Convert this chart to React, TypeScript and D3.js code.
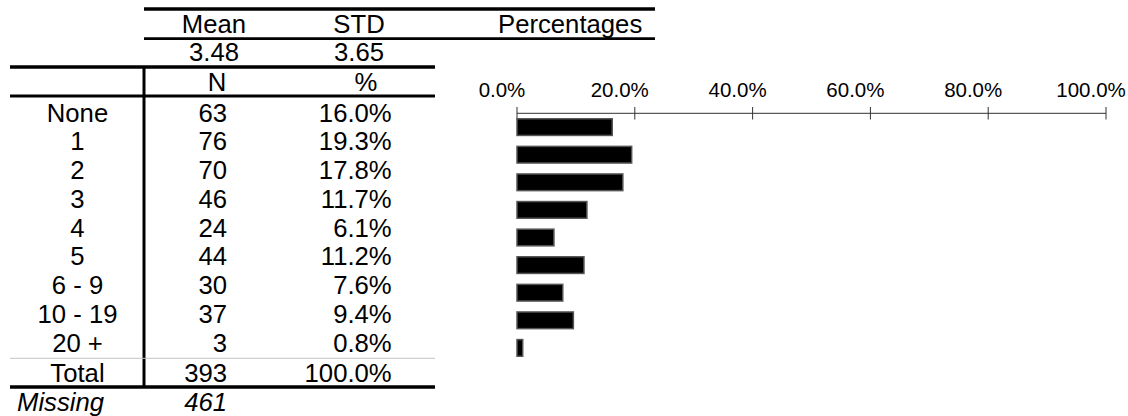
import React from "react";
import * as d3 from "d3";

const categories = ["None", "1", "2", "3", "4", "5", "6 - 9", "10 - 19", "20 +"];
const counts = [63, 76, 70, 46, 24, 44, 30, 37, 3];
const percents = [16.0, 19.3, 17.8, 11.7, 6.1, 11.2, 7.6, 9.4, 0.8];
const totalN = 393;
const totalPct = 100.0;
const missingN = 461;
const meanValue = 3.48;
const stdValue = 3.65;
const axisTicks = [0, 20, 40, 60, 80, 100];

const W = 1128;
const H = 416;
const FONT = "'Liberation Sans', Arial, Helvetica, sans-serif";
const FS = 25.7;

export default function App() {
  const x = d3.scaleLinear().domain([0, 100]).range([517, 1106]);
  const y = d3
    .scaleBand<string>()
    .domain(categories)
    .range([113.3, 361.7])
    .paddingInner(0.36)
    .paddingOuter(0.18);
  const rowY = d3.scaleLinear().domain([0, 8]).range([121.7, 351.7]);
  const fmtPct = (v: number) => v.toFixed(1) + "%";

  const labelX = 77.5;
  const nX = 227;
  const pX = 391.7;

  return (
    <div style={{ position: "absolute", left: 0, top: 0 }}>
      <svg width={W} height={H} style={{ display: "block", background: "#fff" }}>
        <g fontFamily={FONT} fontSize={FS} fill="#000">
          {/* header lines */}
          <line x1={144} x2={655} y1={9} y2={9} stroke="#000" strokeWidth={3.3} />
          <line x1={144} x2={655} y1={38.7} y2={38.7} stroke="#000" strokeWidth={2.8} />
          <line x1={10} x2={435} y1={67} y2={67} stroke="#000" strokeWidth={3.3} />
          <line x1={10} x2={435} y1={96} y2={96} stroke="#000" strokeWidth={3} />
          <line x1={144} x2={144} y1={67} y2={387} stroke="#000" strokeWidth={3} />
          <line x1={10} x2={435} y1={358.3} y2={358.3} stroke="#c4c4c4" strokeWidth={1} />
          <line x1={10} x2={435} y1={387} y2={387} stroke="#000" strokeWidth={3.3} />

          <text x={214} y={33.3} textAnchor="middle">Mean</text>
          <text x={359} y={33.3} textAnchor="middle">STD</text>
          <text x={498} y={33.3} textAnchor="start">Percentages</text>
          <text x={214} y={60.5} textAnchor="middle">{meanValue.toFixed(2)}</text>
          <text x={359} y={60.5} textAnchor="middle">{stdValue.toFixed(2)}</text>
          <text x={217} y={90.5} textAnchor="middle">N</text>
          <text x={366} y={90.5} textAnchor="middle">%</text>

          {categories.map((c, i) => (
            <g key={c}>
              <text x={labelX} y={rowY(i)} textAnchor="middle">{c}</text>
              <text x={nX} y={rowY(i)} textAnchor="end">{counts[i]}</text>
              <text x={pX} y={rowY(i)} textAnchor="end">{fmtPct(percents[i])}</text>
            </g>
          ))}
          <text x={labelX} y={381.7} textAnchor="middle">Total</text>
          <text x={nX} y={381.7} textAnchor="end">{totalN}</text>
          <text x={pX} y={381.7} textAnchor="end">{fmtPct(totalPct)}</text>
          <text x={17} y={410.5} textAnchor="start" fontStyle="italic">Missing</text>
          <text x={nX} y={410.5} textAnchor="end" fontStyle="italic">{missingN}</text>
        </g>

        {/* axis */}
        <g fontFamily={FONT} fontSize={20.5} fill="#000">
          <line x1={x(0)} x2={x(100)} y1={113.3} y2={113.3} stroke="#333" strokeWidth={1} />
          {axisTicks.map((t) => (
            <g key={t}>
              <line x1={x(t)} x2={x(t)} y1={107} y2={119.5} stroke="#333" strokeWidth={1} />
              <text x={x(t) - 15} y={96.5} textAnchor="middle">{fmtPct(t)}</text>
            </g>
          ))}
        </g>

        {/* bars */}
        <g>
          {categories.map((c, i) => (
            <rect
              key={c}
              x={x(0)}
              y={(y(c) as number) + 0.5}
              width={x(percents[i]) - x(0) + 1}
              height={y.bandwidth() - 1}
              fill="#000"
              stroke="#555"
              strokeWidth={1.5}
            />
          ))}
        </g>
      </svg>
    </div>
  );
}
